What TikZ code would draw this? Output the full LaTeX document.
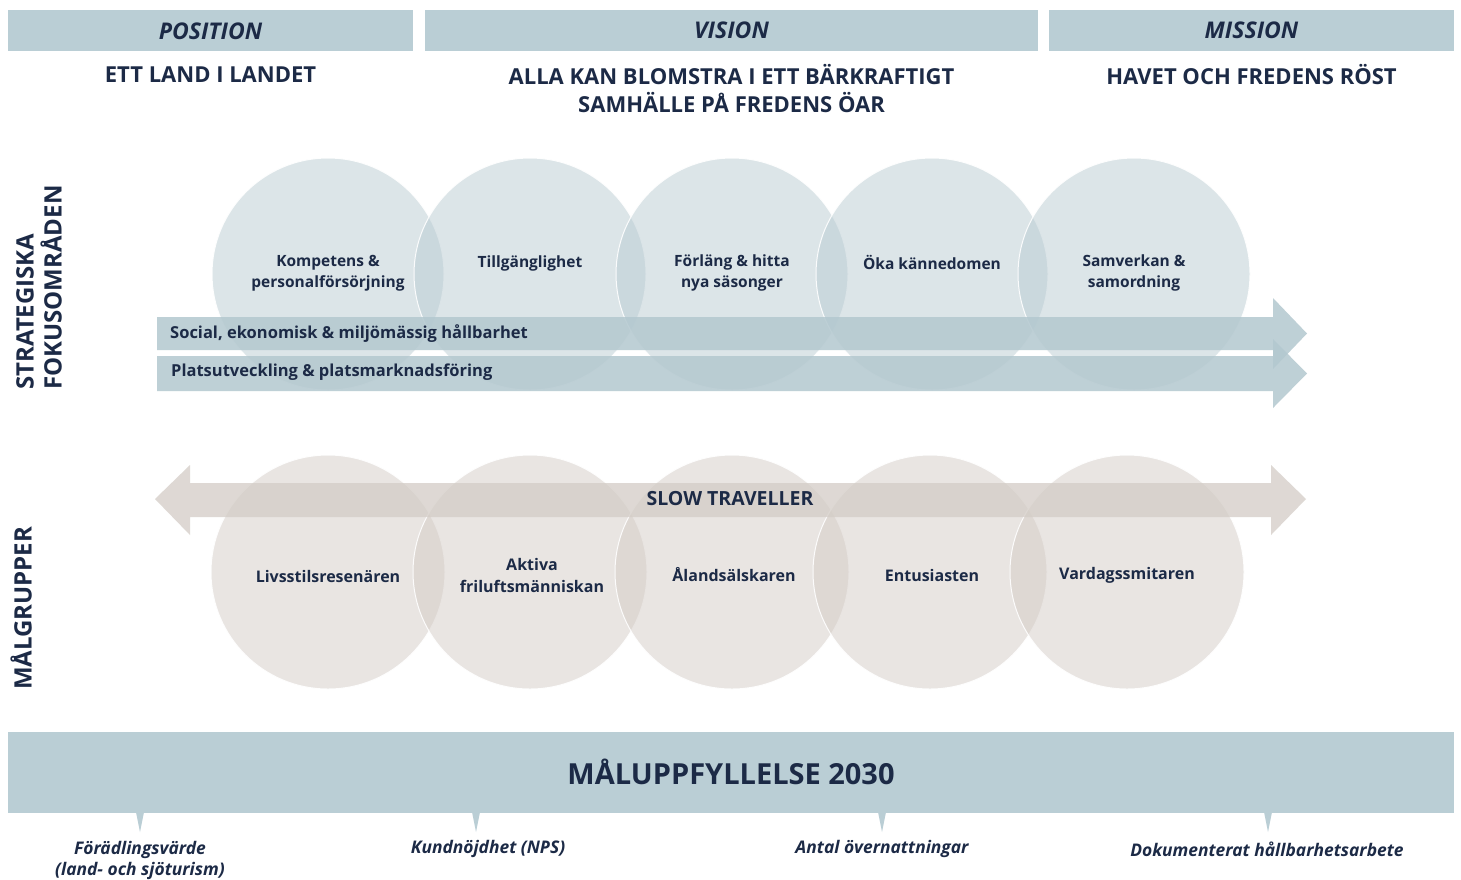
\documentclass[tikz,border=0pt]{standalone}
\usepackage{fontspec}
\setmainfont{Open Sans}
\definecolor{navy}{HTML}{1C2A46}
\definecolor{barblue}{HTML}{BACED5}
\definecolor{circblue}{HTML}{BACCD3}
\definecolor{arrblue}{HTML}{B3C8CF}
\definecolor{circbeige}{HTML}{D4CCC6}
\definecolor{arrbeige}{HTML}{D3CCC6}
\begin{document}
\begin{tikzpicture}[x=1pt,y=-1pt,
  bar/.style={fill=barblue,draw=none},
  hdr/.style={font=\fontsize{23}{25}\selectfont\bfseries\itshape,text=navy},
  sub/.style={font=\fontsize{22}{28}\selectfont\bfseries,text=navy,align=center},
  topcirc/.style={circle,minimum size=232,inner sep=0,fill=circblue,fill opacity=0.5,draw=white,draw opacity=0.9,line width=1pt},
  botcirc/.style={circle,minimum size=234,inner sep=0,fill=circbeige,fill opacity=0.5,draw=white,draw opacity=0.9,line width=1pt},
  clabel/.style={font=\fontsize{15.5}{21}\selectfont\bfseries,text=navy,align=center},
  blabel/.style={font=\fontsize{16}{22}\selectfont\bfseries,text=navy,align=center},
  arr/.style={fill=arrblue,fill opacity=0.85,draw=none},
  arrb/.style={fill=arrbeige,fill opacity=0.75,draw=none},
  arrtext/.style={font=\fontsize{16.5}{20}\selectfont\bfseries,text=navy,anchor=west,inner sep=0pt},
  side/.style={font=\fontsize{24}{28}\selectfont\bfseries,text=navy,rotate=90,align=left,inner sep=0pt},
  kpi/.style={font=\fontsize{17.4}{21}\selectfont\bfseries\itshape,text=navy,align=center},
  tick/.style={fill=barblue,draw=none}
]
\useasboundingbox (0,0) rectangle (1461,879);
\fill[white] (0,0) rectangle (1461,879);

% header bars
\path[bar] (8,10) rectangle (413,51);
\path[bar] (425,10) rectangle (1038,51);
\path[bar] (1049,10) rectangle (1454,51);
\node[hdr] (hpos) at (210.5,31) {POSITION};
\node[hdr] (hvis) at (731.5,30) {VISION};
\node[hdr] (hmis) at (1251.5,30) {MISSION};
\node[sub] (spos) at (210.5,75) {ETT LAND I LANDET};
\node[sub] (svis) at (731.5,89) {ALLA KAN BLOMSTRA I ETT BÄRKRAFTIGT\\SAMHÄLLE PÅ FREDENS ÖAR};
\node[sub] (smis) at (1251.5,75) {HAVET OCH FREDENS RÖST};

% side labels
\node[side,anchor=south west] (sstrat) at (62,390) {STRATEGISKA\\FOKUSOMRÅDEN};
\node[side,anchor=south west] (smal) at (32,690) {MÅLGRUPPER};

% top circles
\node[topcirc] (c1) at (328,274) {};
\node[topcirc] (c2) at (530,274) {};
\node[topcirc] (c3) at (732,274) {};
\node[topcirc] (c4) at (932,274) {};
\node[topcirc] (c5) at (1134,274) {};
\node[clabel] (l1) at (328,273) {Kompetens \&\\personalförsörjning};
\node[clabel] (l2) at (530,263) {Tillgänglighet};
\node[clabel] (l3) at (732,273) {Förläng \& hitta\\nya säsonger};
\node[clabel] (l4) at (932,262) {Öka kännedomen};
\node[clabel] (l5) at (1134,273) {Samverkan \&\\samordning};

% strategic arrows
\path[arr] (157,317) -- (1273,317) -- (1273,298) -- (1307,333.5) -- (1273,369) -- (1273,350) -- (157,350) -- cycle;
\path[arr] (157,356) -- (1273,356) -- (1273,339) -- (1307,373.5) -- (1273,408) -- (1273,391) -- (157,391) -- cycle;
\node[arrtext] (a1) at (170,333.5) {Social, ekonomisk \& miljömässig hållbarhet};
\node[arrtext] (a2) at (171,372) {Platsutveckling \& platsmarknadsföring};

% bottom circles
\node[botcirc] (b1) at (328,572) {};
\node[botcirc] (b2) at (530,572) {};
\node[botcirc] (b3) at (732,572) {};
\node[botcirc] (b4) at (930,572) {};
\node[botcirc] (b5) at (1127,572) {};
\node[blabel] (m1) at (328,576) {Livsstilsresenären};
\node[blabel] (m2) at (532,575) {Aktiva\\friluftsmänniskan};
\node[blabel] (m3) at (734,575) {Ålandsälskaren};
\node[blabel] (m4) at (932,575) {Entusiasten};
\node[blabel] (m5) at (1127,575) {Vardagssmitaren};

% slow traveller arrow
\path[arrb] (155,499) -- (190,465) -- (190,483) -- (1271,483) -- (1271,465) -- (1306,499) -- (1271,535) -- (1271,517) -- (190,517) -- (190,535) -- cycle;
\node[font=\fontsize{19.5}{22}\selectfont\bfseries,text=navy] (st) at (730,499) {SLOW TRAVELLER};

% bottom bar
\path[bar] (8,732) rectangle (1454,813);
\node[font=\fontsize{29}{32}\selectfont\bfseries,text=navy] (goal) at (731,772) {MÅLUPPFYLLELSE 2030};
\foreach \x/\n in {140/t1,476/t2,882/t3,1268/t4}{
  \path[tick] (\x-4,812) -- (\x+4,812) -- (\x,832) -- cycle;
  \coordinate (\n) at (\x,832);
}
\node[kpi] (k1) at (140,860) {Förädlingsvärde\\(land- och sjöturism)};
\node[kpi] (k2) at (488,849) {Kundnöjdhet (NPS)};
\node[kpi] (k3) at (882,849) {Antal övernattningar};
\node[kpi] (k4) at (1267,849) {Dokumenterat hållbarhetsarbete};
\end{tikzpicture}
\end{document}
